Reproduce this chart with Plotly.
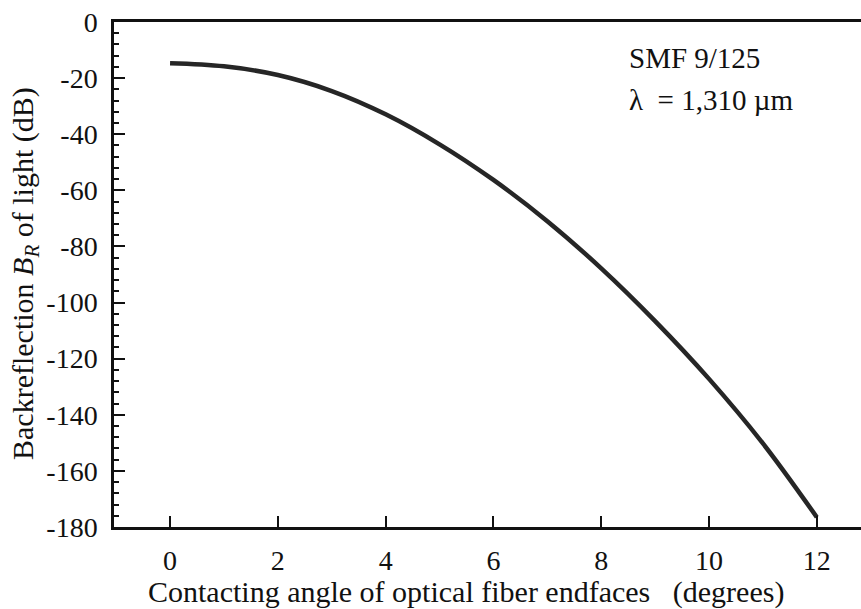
import plotly.graph_objects as go

angle_deg = [0, 1, 2, 3, 4, 5, 6, 7, 8, 9, 10, 11, 12]
backreflection_db = [-14.7, -15.8, -18.9, -24.6, -32.9, -43.6, -56.3, -71.0, -87.8, -106.6, -127.2, -150.2, -176.5]

x_ticks = [0, 2, 4, 6, 8, 10, 12]
y_ticks = [0, -20, -40, -60, -80, -100, -120, -140, -160, -180]

x_title = "Contacting angle of optical fiber endfaces &nbsp;&nbsp;(degrees)"
y_title = "Backreflection <i>B</i><sub><i>R</i></sub> of light (dB)"
note_lines = ["SMF 9/125", "λ &nbsp;= 1,310 µm"]

FONT = "Liberation Serif"
INK = "#111"

L, R, T, B = 114, 0, 22, 82
W, H = 861, 609
pw, ph = W - L - R, H - T - B


def px_to_paper(px, py):
    return (px - L) / pw, 1 - (py - T) / ph


fig = go.Figure()
fig.add_trace(go.Scatter(
    x=angle_deg, y=backreflection_db, mode="lines",
    line=dict(color="#262626", width=4.5, shape="spline", smoothing=1.0),
    showlegend=False, hoverinfo="skip"))

annotations = []
for text, (px, py) in zip(note_lines, [(627, 58), (627, 100)]):
    ax, ay = px_to_paper(px, py)
    annotations.append(dict(text=text, x=ax, y=ay, xref="paper", yref="paper",
                            showarrow=False, xanchor="left", yanchor="middle",
                            font=dict(family=FONT, size=29, color=INK)))
ax, ay = px_to_paper(466, 592)
annotations.append(dict(text=x_title, x=ax, y=ay, xref="paper", yref="paper",
                        showarrow=False, xanchor="center", yanchor="middle",
                        font=dict(family=FONT, size=30, color=INK)))
ax, ay = px_to_paper(25, 274)
annotations.append(dict(text=y_title, x=ax, y=ay, xref="paper", yref="paper",
                        showarrow=False, xanchor="center", yanchor="middle", textangle=-90,
                        font=dict(family=FONT, size=30, color=INK)))

fig.update_layout(
    width=W, height=H,
    margin=dict(l=L, r=R, t=T, b=B),
    paper_bgcolor="white", plot_bgcolor="white",
    font=dict(family=FONT, size=28, color=INK),
    xaxis=dict(
        range=[-1.04, 12.82], tickvals=x_ticks, ticktext=[str(v) for v in x_ticks],
        ticks="inside", ticklen=11, tickwidth=2, tickcolor=INK,
        tickfont=dict(family=FONT, size=28, color=INK),
        showline=True, linewidth=2.5, linecolor=INK, mirror=True,
        showgrid=False, zeroline=False, ticklabelstandoff=7,
    ),
    yaxis=dict(
        range=[-180, 0], tickvals=y_ticks, ticktext=[str(v) for v in y_ticks],
        ticks="inside", ticklen=11, tickwidth=2, tickcolor=INK,
        tickfont=dict(family=FONT, size=28, color=INK),
        minor=dict(dtick=4, ticks="inside", ticklen=5, tickwidth=1.5, tickcolor=INK, showgrid=False),
        showline=True, linewidth=2.5, linecolor=INK, mirror=False,
        showgrid=False, zeroline=False, ticklabelstandoff=8,
    ),
    annotations=annotations,
)

fig.write_html("out.html")
